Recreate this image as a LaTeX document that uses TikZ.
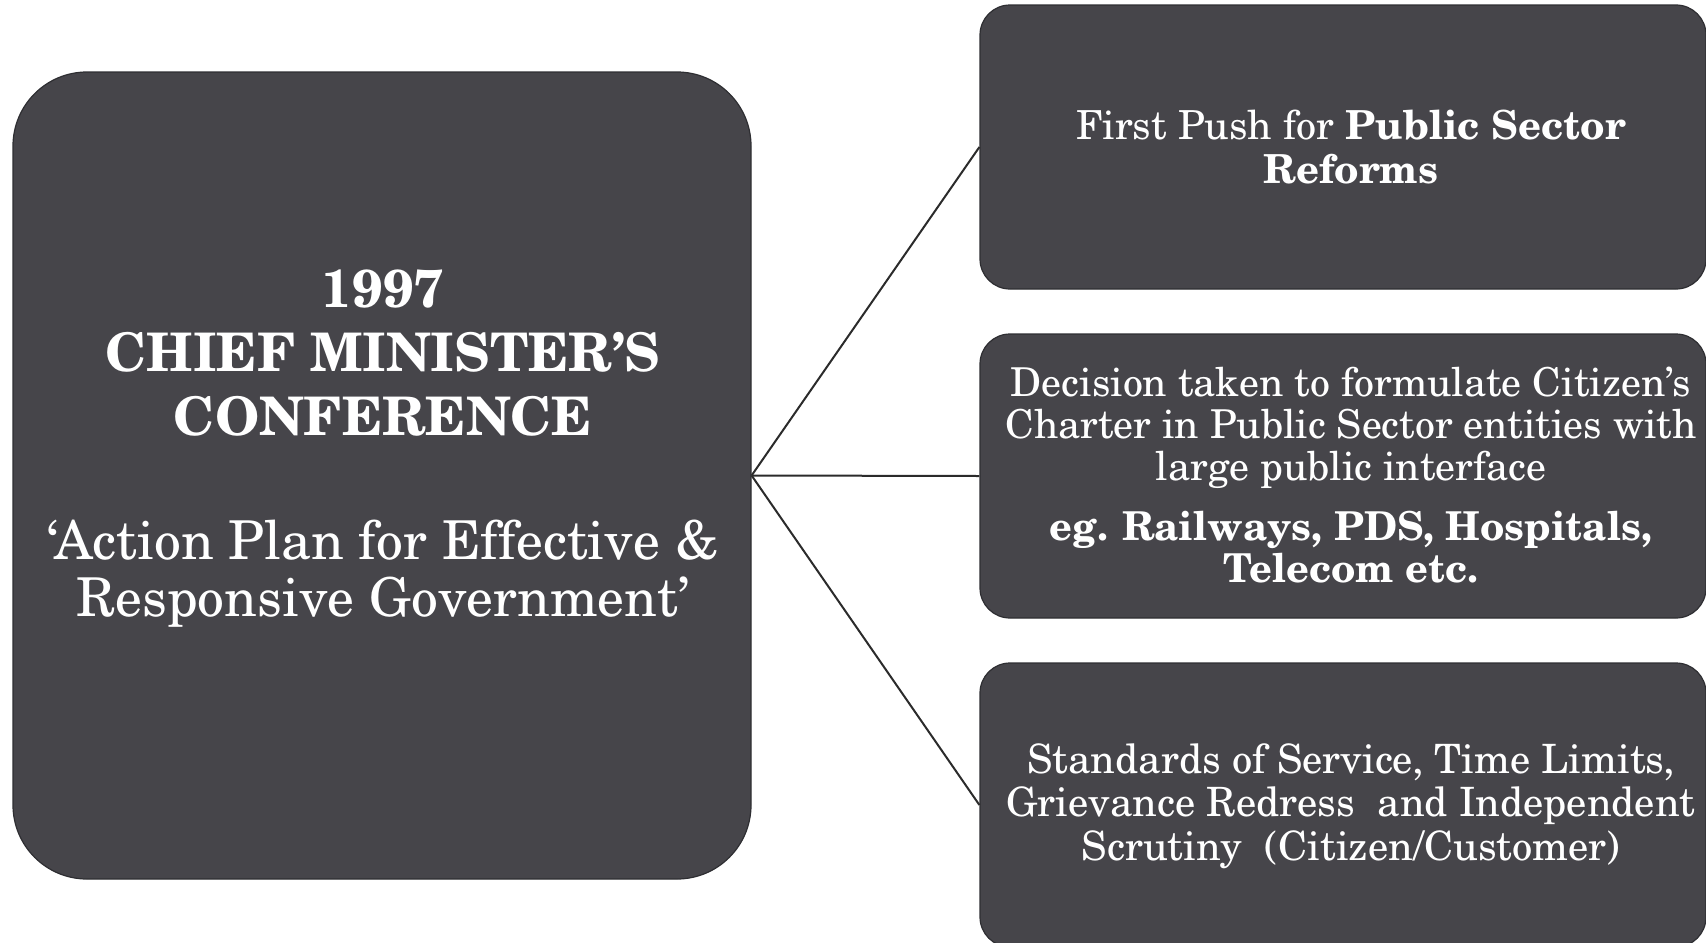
\documentclass[tikz,border=0pt]{standalone}
\usepackage[T1]{fontenc}
\usepackage{newcent}
\definecolor{boxfill}{HTML}{46454A}
\definecolor{boxline}{HTML}{2E2E32}
\definecolor{connc}{HTML}{2B2B2B}
\begin{document}
\begin{tikzpicture}[x=0.5pt,y=-0.5pt,
  box/.style={draw=boxline, line width=0.6pt, fill=boxfill, inner sep=0pt},
  bigbox/.style={box, rounded corners=37pt, minimum width=369pt, minimum height=403.5pt},
  smallbox/.style={box, rounded corners=15pt, minimum width=363pt, minimum height=142pt},
  boxtext/.style={text=white, align=center, inner sep=0pt},
  conn/.style={draw=connc, line width=1pt}]
\useasboundingbox (0,0) rectangle (1706,942);
% boxes
\node[bigbox] (cm) at (382,475.5) {};
\node[smallbox] (r1) at (1343,147) {};
\node[smallbox] (r2) at (1343,476) {};
\node[smallbox] (r3) at (1343,805) {};
% connectors
\draw[conn] (cm.east) -- (r1.west);
\draw[conn] (cm.east) -- (r2.west);
\draw[conn] (cm.east) -- (r3.west);
% texts
\node[boxtext, font=\fontsize{26.6}{32}\selectfont\bfseries] (cmtitle) at (383,353)
  {1997\\CHIEF MINISTER'S\\CONFERENCE};
\node[boxtext, font=\fontsize{26.8}{28.5}\selectfont] (cmsub) at (383,574)
  {`Action Plan for Effective \&\\Responsive Government'};
\node[boxtext, font=\fontsize{20}{22}\selectfont] (t1) at (1351,147)
  {First Push for \textbf{Public Sector}\\\textbf{Reforms}};
\node[boxtext, font=\fontsize{19.9}{21}\selectfont] (t2) at (1351,475)
  {Decision taken to formulate Citizen's\\Charter in Public Sector entities with\\large public interface\\[9pt]
   \textbf{eg. Railways, PDS, Hospitals,}\\\textbf{Telecom etc.}};
\node[boxtext, font=\fontsize{20.2}{21.75}\selectfont] (t3) at (1351,806)
  {Standards of Service, Time Limits,\\Grievance Redress\ \ and Independent\\Scrutiny\ \ (Citizen/Customer)};
\end{tikzpicture}
\end{document}
